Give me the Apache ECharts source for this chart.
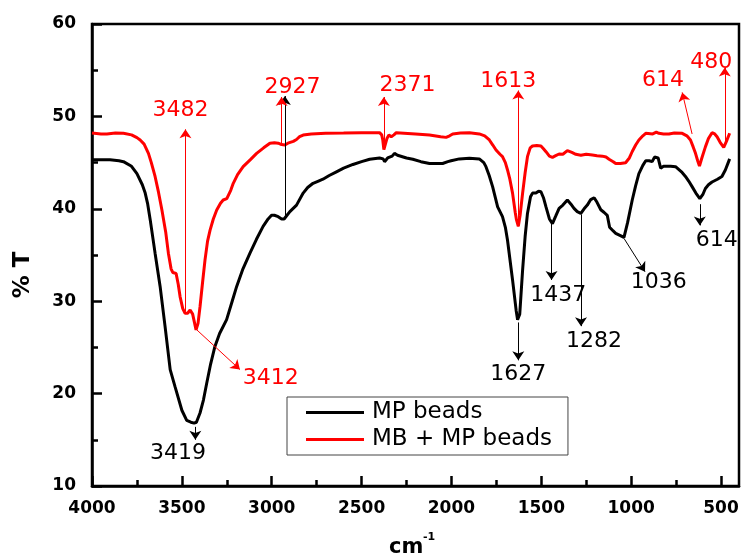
<!DOCTYPE html>
<html>
<head>
<meta charset="utf-8">
<script src="https://cdn.jsdelivr.net/npm/echarts@6/dist/echarts.min.js"></script>
<style>html,body{margin:0;padding:0;background:#fff}#c{width:744px;height:559px}</style>
</head>
<body>
<div id="c"></div>
<script>
// ---- data (wavenumber cm-1, %T) ----
var seriesNames = ['MP beads', 'MB + MP beads'];
var xTicks = [500, 1000, 1500, 2000, 2500, 3000, 3500, 4000];
var xMinorTicks = [750, 1250, 1750, 2250, 2750, 3250, 3750];
var yTicks = [10, 20, 30, 40, 50, 60];

var mpBeads = [[4000,45.3],[3950,45.3],[3900,45.3],[3850,45.2],[3825,45.1],[3780,44.6],[3750,43.8],[3720,42.6],[3704,41.7],[3690,40.5],[3676,38.8],[3649,35.2],[3621,31.6],[3593,27.2],[3565,22.6],[3538,20.75],[3500,18.2],[3473,17.1],[3450,16.9],[3432,16.8],[3419,16.9],[3399,17.9],[3380,19.3],[3362,21.1],[3340,23.2],[3316,25.1],[3290,26.5],[3251,28.0],[3220,30.0],[3195,31.6],[3160,33.5],[3121,35.2],[3085,36.7],[3048,38.1],[3020,38.9],[3001,39.3],[2985,39.3],[2964,39.15],[2945,38.9],[2931,38.9],[2915,39.3],[2899,39.7],[2862,40.4],[2825,41.7],[2800,42.3],[2770,42.76],[2740,43.0],[2715,43.2],[2680,43.6],[2640,44.0],[2600,44.4],[2548,44.8],[2500,45.1],[2455,45.36],[2400,45.5],[2380,45.4],[2372,45.1],[2355,45.5],[2330,45.7],[2317,46.0],[2300,45.8],[2289,45.7],[2250,45.5],[2215,45.36],[2170,45.1],[2122,44.9],[2080,44.9],[2049,44.9],[2020,45.1],[2002,45.2],[1956,45.4],[1900,45.46],[1845,45.4],[1820,45.0],[1808,44.56],[1790,43.6],[1771,42.4],[1743,40.2],[1716,39.15],[1700,38.0],[1688,36.6],[1660,32.3],[1640,29.0],[1632,28.0],[1620,28.6],[1604,33.4],[1590,37.0],[1577,39.5],[1560,41.3],[1549,41.7],[1530,41.7],[1515,41.9],[1502,41.85],[1488,41.2],[1474,40.2],[1455,38.9],[1438,38.4],[1420,39.2],[1401,40.05],[1380,40.4],[1355,40.95],[1335,40.5],[1318,40.05],[1300,39.7],[1280,39.5],[1262,40.0],[1244,40.4],[1225,41.0],[1206,41.2],[1190,40.7],[1169,39.9],[1150,39.6],[1133,39.3],[1120,38.0],[1100,37.6],[1086,37.35],[1060,37.1],[1040,36.9],[1020,38.5],[994,40.95],[975,42.5],[957,43.8],[935,44.7],[919,45.2],[900,45.2],[883,45.1],[870,45.6],[850,45.5],[836,44.4],[820,44.6],[809,44.75],[780,44.6],[753,44.56],[720,44.0],[698,43.5],[680,43.0],[661,42.4],[640,41.7],[618,41.1],[600,41.6],[587,42.2],[570,42.6],[550,42.9],[520,43.2],[495,43.5],[476,44.2],[460,45.0],[452,45.4]];

var mbMpBeads = [[4000,48.2],[3950,48.1],[3917,48.1],[3870,48.2],[3825,48.17],[3780,48.0],[3750,47.7],[3732,47.45],[3710,47.0],[3686,46.0],[3670,45.0],[3649,43.5],[3630,41.8],[3611,39.87],[3590,37.5],[3575,35.2],[3560,33.5],[3550,33.1],[3540,33.2],[3532,33.0],[3520,31.8],[3510,30.5],[3495,29.2],[3482,28.7],[3468,28.7],[3454,29.05],[3440,28.6],[3421,26.9],[3410,27.6],[3399,29.4],[3385,32.0],[3371,34.5],[3357,36.5],[3343,37.7],[3325,38.9],[3306,39.87],[3285,40.6],[3270,40.95],[3250,41.1],[3242,41.2],[3228,42.0],[3214,42.76],[3190,43.7],[3159,44.56],[3120,45.3],[3084,46.0],[3045,46.6],[3010,47.1],[2985,47.15],[2964,47.1],[2945,46.95],[2927,46.9],[2910,47.1],[2899,47.26],[2880,47.3],[2862,47.5],[2845,47.8],[2825,47.98],[2780,48.1],[2700,48.17],[2600,48.2],[2500,48.24],[2400,48.24],[2388,48.0],[2382,47.45],[2376,46.4],[2369,46.5],[2359,47.6],[2348,47.98],[2335,47.8],[2320,48.0],[2307,48.24],[2200,48.1],[2122,47.98],[2060,47.8],[2030,47.73],[2010,47.9],[1993,48.1],[1950,48.2],[1900,48.24],[1845,48.1],[1815,47.9],[1789,47.45],[1770,46.9],[1752,46.36],[1730,45.9],[1716,45.64],[1700,45.0],[1688,44.2],[1675,43.2],[1660,41.7],[1645,39.6],[1638,38.8],[1628,38.1],[1618,39.3],[1604,41.7],[1590,43.9],[1577,45.64],[1562,46.6],[1549,46.8],[1525,46.85],[1502,46.8],[1488,46.5],[1474,46.18],[1455,45.7],[1438,45.57],[1420,45.75],[1401,45.93],[1380,45.9],[1355,46.29],[1330,46.1],[1308,45.9],[1280,45.8],[1250,45.9],[1216,45.82],[1190,45.75],[1160,45.7],[1140,45.6],[1123,45.36],[1100,45.1],[1086,44.9],[1060,44.9],[1031,44.99],[1010,45.5],[994,46.2],[975,46.9],[957,47.45],[935,47.9],[919,48.17],[880,48.1],[860,48.3],[846,48.17],[820,48.1],[790,48.1],[760,48.2],[716,48.17],[690,47.9],[670,47.45],[655,46.7],[642,46.0],[630,45.2],[620,44.63],[605,45.6],[587,46.7],[570,47.6],[550,48.24],[535,48.1],[522,47.8],[505,47.2],[485,46.66],[470,47.3],[452,48.17]];

// peak annotations: [text, arrow start x, y, arrow end x, y, label x, y] in data units
var mpPeaks = [
  ['3419', 3425, 16.4, 3425, 15.0, 3521, 13.5],
  ['2927', 2927, 38.9, 2927, 52.2, null, null],
  ['1627', 1628, 27.7, 1628, 23.6, 1628, 22.1],
  ['1437', 1443, 38.4, 1443, 32.3, 1406, 30.6],
  ['1282', 1279, 39.4, 1279, 27.3, 1207, 25.7],
  ['1036', 1040, 36.8, 923, 33.2, 846, 32.0],
  ['614', 618, 40.5, 618, 38.2, 524, 36.6]
];
var mbPeaks = [
  ['3482', 3480, 28.9, 3480, 48.6, 3507, 50.7],
  ['2927', 2945, 47.0, 2945, 52.1, 2884, 53.1],
  ['2371', 2376, 46.4, 2376, 52.1, 2244, 53.4],
  ['1613', 1628, 38.1, 1628, 52.8, 1684, 53.8],
  ['3412', 3417, 26.9, 3177, 22.6, 3005, 21.7],
  ['614', 661, 48.1, 716, 52.6, 823, 53.9],
  ['480', 479, 47.0, 479, 55.3, 554, 55.9]
];

var FONT = 'DejaVu Sans';
function arrows(peaks, color) {
  return {
    silent: true,
    symbol: ['none', 'arrow'],
    symbolSize: 9,
    label: {show: false},
    lineStyle: {color: color, width: 1, type: 'solid'},
    emphasis: {disabled: true},
    animation: false,
    data: peaks.map(function (p) {
      return [{coord: [p[1], p[2]]}, {coord: [p[3], p[4]]}];
    })
  };
}
function labels(peaks, color) {
  return {
    silent: true,
    symbol: 'circle',
    symbolSize: 0,
    itemStyle: {color: 'rgba(0,0,0,0)'},
    label: {show: true, position: 'inside', formatter: '{b}', color: color,
            fontFamily: FONT, fontSize: 22},
    animation: false,
    data: peaks.filter(function (p) { return p[5] !== null; }).map(function (p) {
      return {name: p[0], coord: [p[5], p[6]]};
    })
  };
}

var axisLabelStyle = {fontFamily: FONT, fontWeight: 'bold', fontSize: 17, color: '#000',
  formatter: function (v) { return String(v); }};
var chart = echarts.init(document.getElementById('c'), null, {renderer: 'canvas'});
chart.setOption({
  animation: false,
  backgroundColor: '#fff',
  grid: {left: 92, right: 5, top: 24, bottom: 73, show: true, borderColor: '#000', borderWidth: 2.5, backgroundColor: 'transparent'},
  legend: {
    data: seriesNames, orient: 'vertical', left: 287, top: 397,
    icon: 'rect', itemWidth: 58, itemHeight: 3, itemGap: 4,
    padding: [4, 16, 4, 19], borderColor: '#444', borderWidth: 1, backgroundColor: '#fff',
    textStyle: {fontFamily: FONT, fontSize: 23, color: '#000', padding: [0, 0, 0, 3]}
  },
  xAxis: [{
    type: 'value', inverse: true, min: 400, max: 4000, position: 'bottom',
    axisLine: {lineStyle: {color: '#000', width: 2.5}},
    axisTick: {inside: true, length: 10, customValues: xTicks, lineStyle: {color: '#000', width: 2.5}},
    axisLabel: Object.assign({customValues: xTicks, margin: 14}, axisLabelStyle),
    splitLine: {show: false}
  }, {
    type: 'value', inverse: true, min: 400, max: 4000, position: 'bottom',
    axisLine: {show: false},
    axisTick: {inside: true, length: 6, customValues: xMinorTicks, lineStyle: {color: '#000', width: 2.5}},
    axisLabel: {show: false},
    splitLine: {show: false}
  }],
  yAxis: {
    type: 'value', min: yTicks[0], max: yTicks[yTicks.length - 1], interval: 10,
    axisLine: {show: true, lineStyle: {color: '#000', width: 2.5}},
    axisTick: {show: true, inside: true, length: 10, lineStyle: {color: '#000', width: 2.5}},
    minorTick: {show: true, splitNumber: 2, length: 6, lineStyle: {color: '#000', width: 2.5}},
    axisLabel: Object.assign({margin: 16}, axisLabelStyle),
    splitLine: {show: false}
  },
  series: [{
    name: seriesNames[0], type: 'line', data: mpBeads, showSymbol: false, symbol: 'none',
    lineStyle: {color: '#000', width: 3}, itemStyle: {color: '#000'},
    markLine: arrows(mpPeaks, '#000'), markPoint: labels(mpPeaks, '#000'), z: 3
  }, {
    name: seriesNames[1], type: 'line', data: mbMpBeads, showSymbol: false, symbol: 'none',
    lineStyle: {color: '#ff0000', width: 3}, itemStyle: {color: '#ff0000'},
    markLine: arrows(mbPeaks, '#ff0000'), markPoint: labels(mbPeaks, '#ff0000'), z: 2
  }],
  graphic: [
    {type: 'text', x: 23, y: 275, rotation: Math.PI / 2,
     style: {text: '% T', font: 'bold 23px "DejaVu Sans"', fill: '#000', align: 'center', verticalAlign: 'middle'}},
    {type: 'text', x: 389, y: 548,
     style: {text: 'cm', font: 'bold 21px "DejaVu Sans"', fill: '#000', align: 'left', verticalAlign: 'middle'}},
    {type: 'text', x: 423, y: 537,
     style: {text: '-1', font: 'bold 11px "DejaVu Sans"', fill: '#000', align: 'left', verticalAlign: 'middle'}}
  ]
});
</script>
</body>
</html>
